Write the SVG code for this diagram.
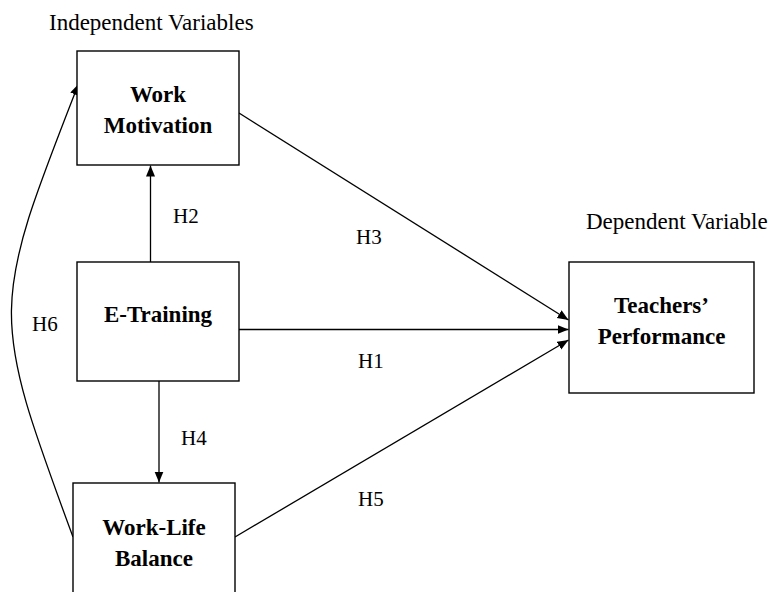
<svg xmlns="http://www.w3.org/2000/svg" width="774" height="592" viewBox="0 0 774 592">
<style>
  .box { fill: #fff; stroke: #000; stroke-width: 1.4; }
  .lbl { font-family: "Liberation Serif", "Times New Roman", serif; font-weight: bold; font-size: 23px; fill: #000; text-anchor: middle; }
  .cap { font-family: "Liberation Serif", "Times New Roman", serif; font-size: 23px; fill: #000; }
  .h { font-family: "Liberation Serif", "Times New Roman", serif; font-size: 21px; fill: #000; }
  .edge { fill: none; stroke: #000; stroke-width: 1.3; marker-end: url(#arr); }
</style>
<defs>
  <marker id="arr" markerUnits="userSpaceOnUse" markerWidth="12" markerHeight="10" refX="11" refY="4.5" orient="auto">
    <path d="M0,0 L11,4.5 L0,9 z" fill="#000"/>
  </marker>
</defs>
<rect width="774" height="592" fill="#fff"/>
<text class="cap" x="49" y="30">Independent Variables</text>
<text class="cap" x="586" y="229">Dependent Variable</text>

<g id="connectors">
  <line class="edge" x1="150.5" y1="262" x2="150.5" y2="165.5"/>
  <line class="edge" x1="159" y1="381" x2="159" y2="482.5"/>
  <line class="edge" x1="239" y1="329.5" x2="568.5" y2="329.5"/>
  <line class="edge" x1="239" y1="113" x2="568.5" y2="320"/>
  <line class="edge" x1="235" y1="537" x2="568.5" y2="340"/>
  <path class="edge" d="M73,537 C -10.25,312 -9.75,309 78.5,84"/>
  <text class="h" x="173" y="223">H2</text>
  <text class="h" x="356" y="244">H3</text>
  <text class="h" x="358" y="368">H1</text>
  <text class="h" x="181" y="445">H4</text>
  <text class="h" x="358" y="506">H5</text>
  <text class="h" x="32" y="331">H6</text>
</g>

<g id="work-motivation">
  <rect class="box" x="77" y="51" width="162" height="114"/>
  <text class="lbl" x="158" y="102">Work</text>
  <text class="lbl" x="158" y="133">Motivation</text>
</g>
<g id="e-training">
  <rect class="box" x="77" y="262" width="162" height="119"/>
  <text class="lbl" x="158" y="322">E-Training</text>
</g>
<g id="work-life-balance">
  <rect class="box" x="73" y="483" width="162" height="125"/>
  <text class="lbl" x="154" y="535">Work-Life</text>
  <text class="lbl" x="154" y="566">Balance</text>
</g>
<g id="teachers-performance">
  <rect class="box" x="569" y="262" width="185" height="131"/>
  <text class="lbl" x="661.5" y="313">Teachers’</text>
  <text class="lbl" x="661.5" y="344">Performance</text>
</g>
</svg>
